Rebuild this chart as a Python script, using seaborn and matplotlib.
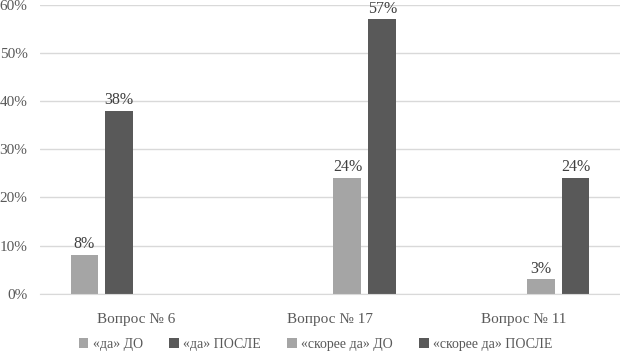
import pandas as pd
import matplotlib.pyplot as plt
import seaborn as sns
from matplotlib.ticker import PercentFormatter

questions = ["Вопрос № 6", "Вопрос № 17", "Вопрос № 11"]
series = ["«да» ДО", "«да» ПОСЛЕ", "«скорее да» ДО", "«скорее да» ПОСЛЕ"]
da_do = [8, 0, 0]
da_posle = [38, 0, 0]
skoree_do = [0, 24, 3]
skoree_posle = [0, 57, 24]

rows = []
for name, vals in zip(series, [da_do, da_posle, skoree_do, skoree_posle]):
    for q, v in zip(questions, vals):
        rows.append({"Вопрос": q, "Ответ": name, "Доля": v})
df = pd.DataFrame(rows)

sns.set_style("white")
plt.rcParams["font.family"] = ["Liberation Serif", "DejaVu Serif"]

fig = plt.figure(figsize=(6.2, 3.51), dpi=100)
ax = fig.add_axes([0.0645, 0.163, 0.9355, 0.823])

palette = ["#a5a5a5", "#595959", "#a5a5a5", "#595959"]
sns.barplot(data=df, x="Вопрос", y="Доля", hue="Ответ", palette=palette,
            width=0.72, gap=0.2, saturation=1, linewidth=0, ax=ax)

for cont in ax.containers:
    labels = [f"{v:.0f}%" if v > 0 else "" for v in cont.datavalues]
    ax.bar_label(cont, labels=labels, fontsize=11.5, color="#404040", padding=2)

ax.set_ylim(0, 60)
ax.set_yticks(range(0, 61, 10))
ax.yaxis.set_major_formatter(PercentFormatter(decimals=0))
ax.grid(axis="y", color="#d9d9d9", linewidth=1)
ax.set_axisbelow(True)
for s in ["top", "right", "left"]:
    ax.spines[s].set_visible(False)
ax.spines["bottom"].set_color("#d9d9d9")
ax.tick_params(axis="both", length=0, labelsize=11, colors="#595959")
ax.tick_params(axis="x", pad=14)
ax.tick_params(axis="y", pad=9)
ax.set_xlabel("")
ax.set_ylabel("")

ax.legend(loc="center", bbox_to_anchor=(0.475, -0.175), ncol=4, frameon=False,
          fontsize=10, handlelength=0.7, handleheight=0.7, handletextpad=0.3,
          columnspacing=1.9, labelcolor="#595959")

plt.savefig("out.png", dpi=100)
